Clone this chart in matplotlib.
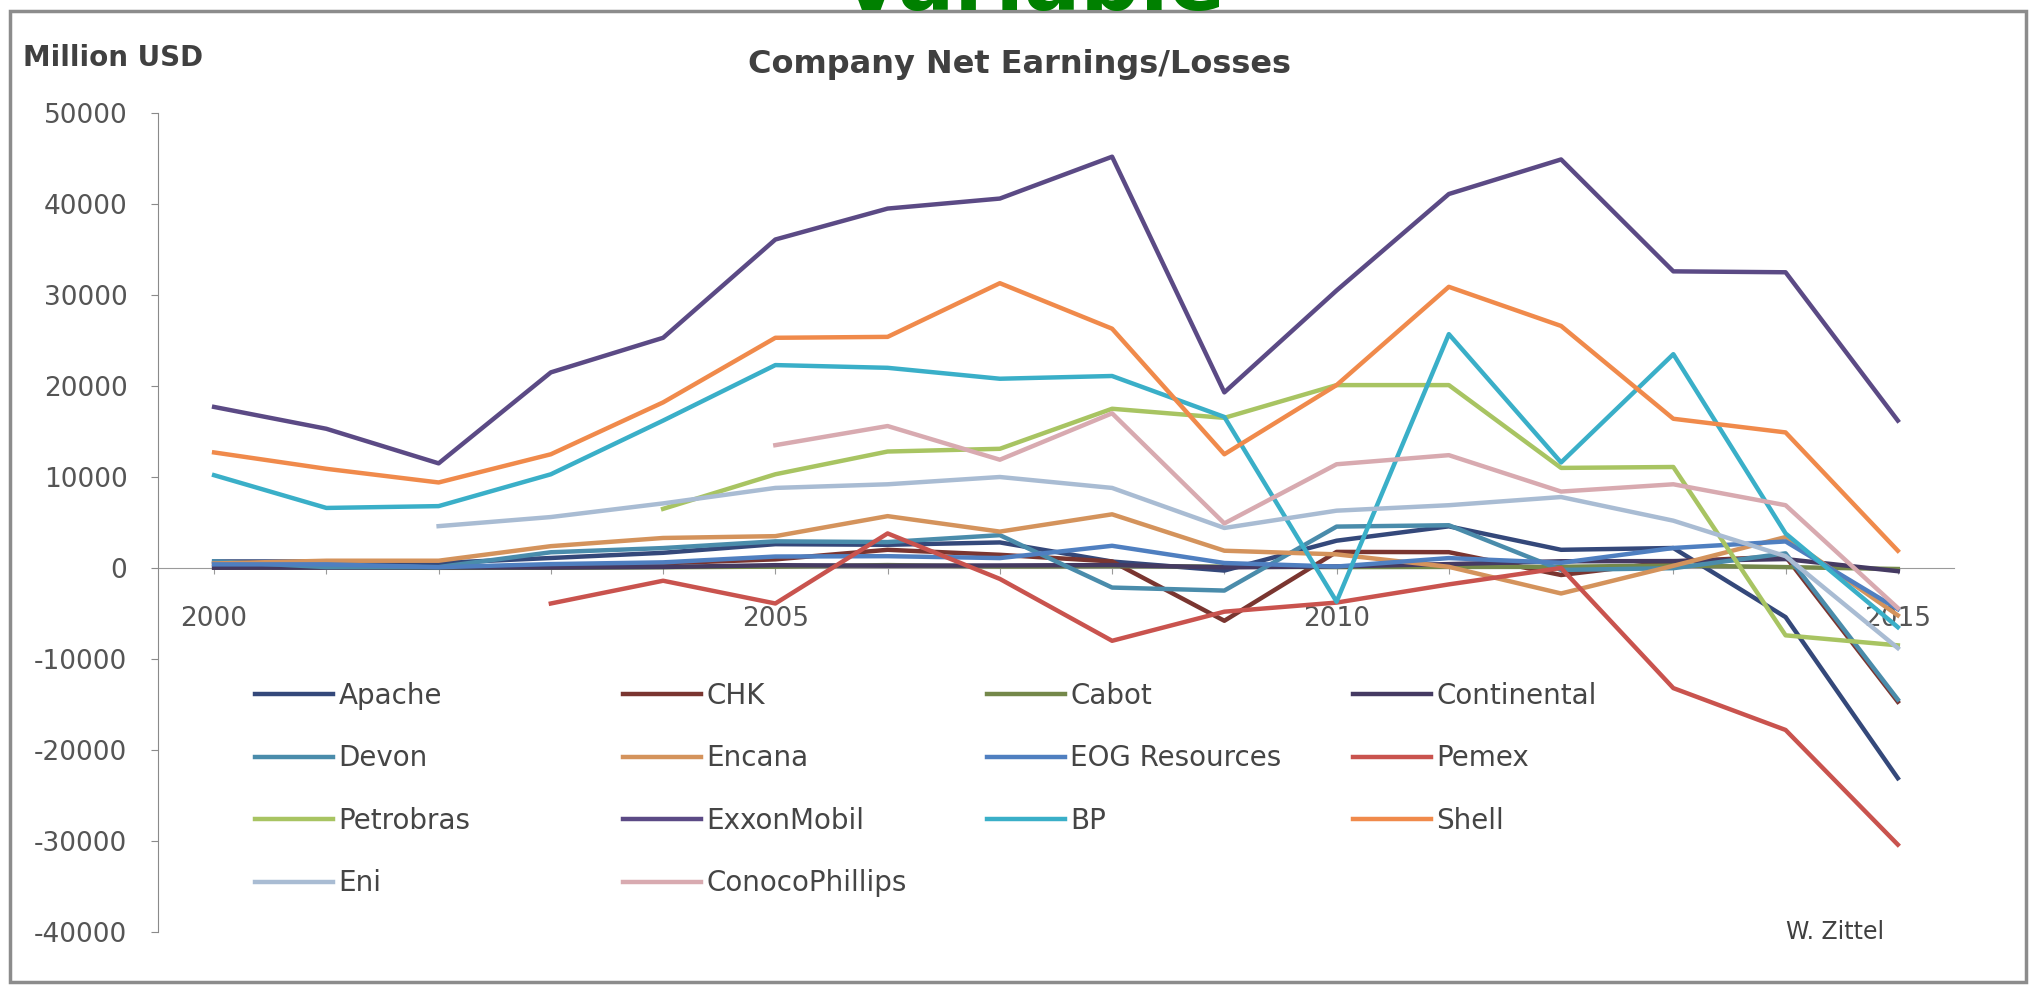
import matplotlib
matplotlib.use("Agg")
import matplotlib.pyplot as plt
import numpy as np
from matplotlib.patches import Rectangle

nan = np.nan
years = list(range(2000, 2016))

# net earnings / losses, million USD
apache = [720, 720, 550, 1100, 1670, 2620, 2550, 2810, 710, -280, 3000, 4580, 2000, 2200, -5400, -23100]
chk = [460, 220, 40, 310, 520, 950, 2000, 1450, 720, -5800, 1770, 1740, -770, 720, 1270, -14700]
cabot = [30, 50, 20, 30, 90, 150, 320, 170, 210, 150, 100, 120, 130, 280, 100, -110]
continental = [30, 40, 60, 50, 110, 310, 250, 280, 320, 70, 170, 430, 740, 760, 980, -350]
devon = [730, 100, 100, 1730, 2190, 2930, 2850, 3610, -2150, -2480, 4550, 4700, -210, -20, 1610, -14450]
encana = [500, 800, 800, 2400, 3300, 3500, 5700, 4000, 5900, 1900, 1500, 130, -2800, 240, 3400, -5200]
eog = [400, 400, 90, 430, 620, 1260, 1300, 1090, 2440, 550, 160, 1090, 570, 2200, 2920, -4520]
pemex = [nan, nan, nan, -3900, -1400, -3900, 3800, -1200, -8000, -4800, -3800, -1800, 0, -13200, -17800, -30400]
petrobras = [nan, nan, nan, nan, 6500, 10300, 12800, 13100, 17500, 16500, 20100, 20100, 11000, 11100, -7400, -8500]
exxon = [17700, 15300, 11500, 21500, 25300, 36100, 39500, 40600, 45200, 19300, 30500, 41100, 44900, 32600, 32500, 16200]
bp = [10200, 6600, 6800, 10300, 16200, 22300, 22000, 20800, 21100, 16600, -3700, 25700, 11600, 23500, 3800, -6500]
shell = [12700, 10900, 9400, 12500, 18200, 25300, 25400, 31300, 26300, 12500, 20100, 30900, 26600, 16400, 14900, 1900]
eni = [nan, nan, 4600, 5600, 7100, 8800, 9200, 10000, 8800, 4400, 6300, 6900, 7800, 5200, 1300, -8800]
conoco = [nan, nan, nan, nan, nan, 13500, 15600, 11900, 17000, 4900, 11400, 12400, 8400, 9200, 6900, -4400]

names = ["Apache", "CHK", "Cabot", "Continental", "Devon", "Encana", "EOG Resources",
         "Pemex", "Petrobras", "ExxonMobil", "BP", "Shell", "Eni", "ConocoPhillips"]
series = [apache, chk, cabot, continental, devon, encana, eog,
          pemex, petrobras, exxon, bp, shell, eni, conoco]
colors = ["#34487a", "#7a3530", "#74884a", "#453a62", "#4a8cab", "#d4935c", "#4f7fc0",
          "#c9534e", "#a8c462", "#5b4a85", "#3aafc8", "#f08a4b", "#a9bcd3", "#d8aab0"]

yticks = list(range(-40000, 50001, 10000))

fig = plt.figure(figsize=(20.36, 9.88), dpi=100)
ax = fig.add_axes([0.0776, 0.0567, 0.8821, 0.8289])

lines = []
for vals, name, c in zip(series, names, colors):
    ln, = ax.plot(years, vals, color=c, lw=3.2, label=name)
    lines.append(ln)

ax.set_xlim(1999.5, 2015.5)
ax.set_ylim(-40000, 50000)
ax.set_yticks(yticks)
ax.set_yticklabels([str(v) for v in yticks])
ax.set_xticks(years)
ax.set_xticklabels([str(y) if y % 5 == 0 else "" for y in years])

for s in ["top", "right"]:
    ax.spines[s].set_visible(False)
ax.spines["left"].set_color("#8a8a8a")
ax.spines["bottom"].set_color("#9a9a9a")
ax.spines["bottom"].set_position(("data", 0))
ax.spines["bottom"].set_zorder(0)
ax.tick_params(axis="y", length=5, color="#8a8a8a", labelsize=19, labelcolor="#555555", pad=17)
ax.tick_params(axis="x", length=4, color="#9a9a9a", labelsize=19, labelcolor="#555555", pad=23)

# legend in 4 columns, row-major like the original
col_x = [255, 623, 987, 1353]
for ci in range(4):
    idx = list(range(ci, len(names), 4))
    fig.legend([lines[i] for i in idx], [names[i] for i in idx],
               loc="upper left", bbox_to_anchor=(col_x[ci] / 2036, 1 - 682 / 988),
               frameon=False, fontsize=20, handlelength=2.8, handletextpad=0.2,
               labelspacing=1.24, borderpad=0, borderaxespad=0, labelcolor="#454545")

fig.text(1019 / 2036, 1 - 65 / 988, "Company Net Earnings/Losses", ha="center", va="center",
         fontsize=23, fontweight="bold", color="#404040")
fig.text(23 / 2036, 1 - 58 / 988, "Million USD", ha="left", va="center",
         fontsize=20, fontweight="bold", color="#404040")
fig.text(1835 / 2036, 1 - 932 / 988, "W. Zittel", ha="center", va="center",
         fontsize=17, color="#404040")
fig.text(1032 / 2036, 1 - 10 / 988, "Variable", ha="center", va="baseline",
         fontsize=60, fontweight="bold", color="#008000")

fig.patches.append(Rectangle((0.005, 0.006), 0.99, 0.983, transform=fig.transFigure,
                             fill=False, edgecolor="#8c8c8c", lw=2.5))

fig.savefig("out.png", dpi=100, facecolor="white")
